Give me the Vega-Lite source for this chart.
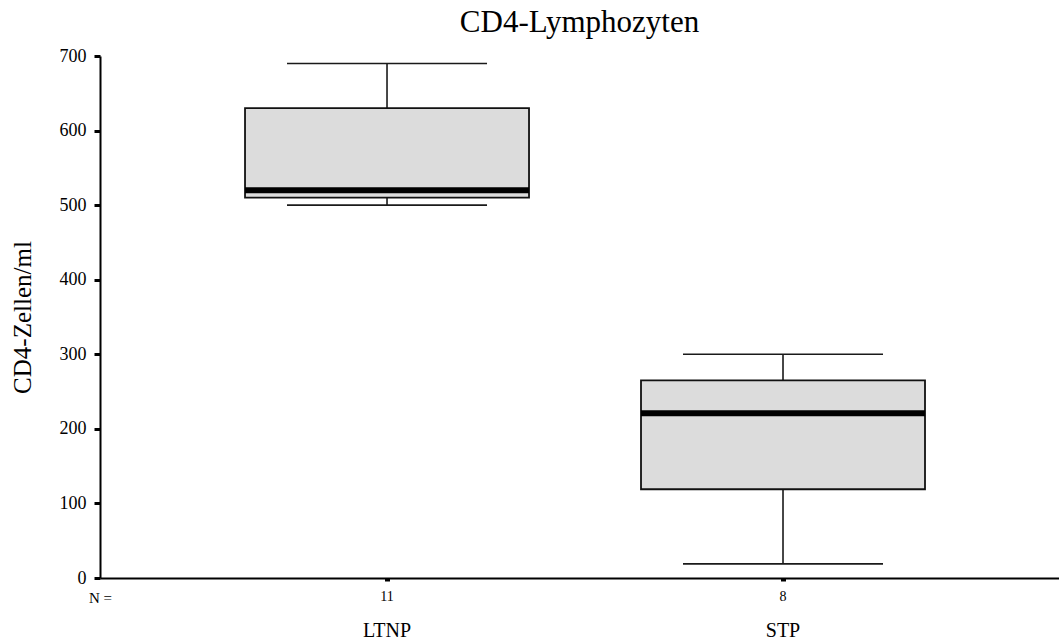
{
  "$schema": "https://vega.github.io/schema/vega-lite/v6.json",
  "autosize": "none",
  "width": 959,
  "height": 522,
  "padding": {"left": 100, "top": 56, "right": 0, "bottom": 64},
  "background": "white",
  "title": {
    "text": "CD4-Lymphozyten",
    "font": "Liberation Serif",
    "fontSize": 31,
    "fontWeight": "normal",
    "color": "black",
    "anchor": "middle",
    "offset": 8
  },
  "config": {
    "view": {"stroke": null},
    "axis": {
      "labelFont": "Liberation Serif",
      "titleFont": "Liberation Serif",
      "labelColor": "black",
      "titleColor": "black",
      "domainColor": "black",
      "tickColor": "black",
      "grid": false
    }
  },
  "data": {
    "values": [
      {"group": "LTNP", "n": 11, "lower": 500, "q1": 510, "median": 520, "q3": 630, "upper": 690},
      {"group": "STP", "n": 8, "lower": 19, "q1": 119, "median": 221, "q3": 265, "upper": 300}
    ]
  },
  "encoding": {
    "x": {
      "field": "group",
      "type": "nominal",
      "sort": ["LTNP", "STP"],
      "scale": {"paddingInner": 0, "paddingOuter": 0.2109, "align": 0.533},
      "axis": {
        "title": "N =",
        "titleFontSize": 15,
        "titleFontWeight": "normal",
        "titleX": 0,
        "titleY": 19,
        "titleAlign": "center",
        "titleBaseline": "middle",
        "titleAnchor": "start",
        "labelAngle": 0,
        "labelFontSize": 20,
        "labelPadding": 39,
        "labelBaseline": "top",
        "domainWidth": 2,
        "tickSize": 3,
        "tickWidth": 5
      }
    }
  },
  "layer": [
    {
      "mark": {"type": "rule", "color": "#1a1a1a", "strokeWidth": 1.6, "opacity": 1},
      "encoding": {
        "y": {
          "field": "lower",
          "type": "quantitative",
          "scale": {"domain": [0, 700], "nice": false, "zero": true},
          "axis": {
            "title": "CD4-Zellen/ml",
            "titleFontSize": 25,
            "titleFontWeight": "normal",
            "titlePadding": 24,
            "values": [0, 100, 200, 300, 400, 500, 600, 700],
            "labelFontSize": 18,
            "labelPadding": 8,
            "domainWidth": 2,
            "tickSize": 6,
            "tickWidth": 3
          }
        },
        "y2": {"field": "upper"}
      }
    },
    {
      "mark": {"type": "tick", "orient": "horizontal", "size": 200, "thickness": 1.6, "color": "#1a1a1a", "opacity": 1},
      "encoding": {"y": {"field": "lower", "type": "quantitative"}}
    },
    {
      "mark": {"type": "tick", "orient": "horizontal", "size": 200, "thickness": 1.6, "color": "#1a1a1a", "opacity": 1},
      "encoding": {"y": {"field": "upper", "type": "quantitative"}}
    },
    {
      "mark": {"type": "bar", "width": 284, "fill": "#dcdcdc", "stroke": "#111111", "strokeWidth": 1.8, "opacity": 1},
      "encoding": {
        "y": {"field": "q1", "type": "quantitative"},
        "y2": {"field": "q3"}
      }
    },
    {
      "mark": {"type": "tick", "orient": "horizontal", "size": 284, "thickness": 6, "color": "black", "opacity": 1},
      "encoding": {"y": {"field": "median", "type": "quantitative"}}
    },
    {
      "mark": {"type": "text", "font": "Liberation Serif", "fontSize": 14, "baseline": "middle", "fill": "black", "opacity": 1},
      "encoding": {
        "y": {"datum": -25, "type": "quantitative"},
        "text": {"field": "n", "type": "quantitative"}
      }
    }
  ]
}
